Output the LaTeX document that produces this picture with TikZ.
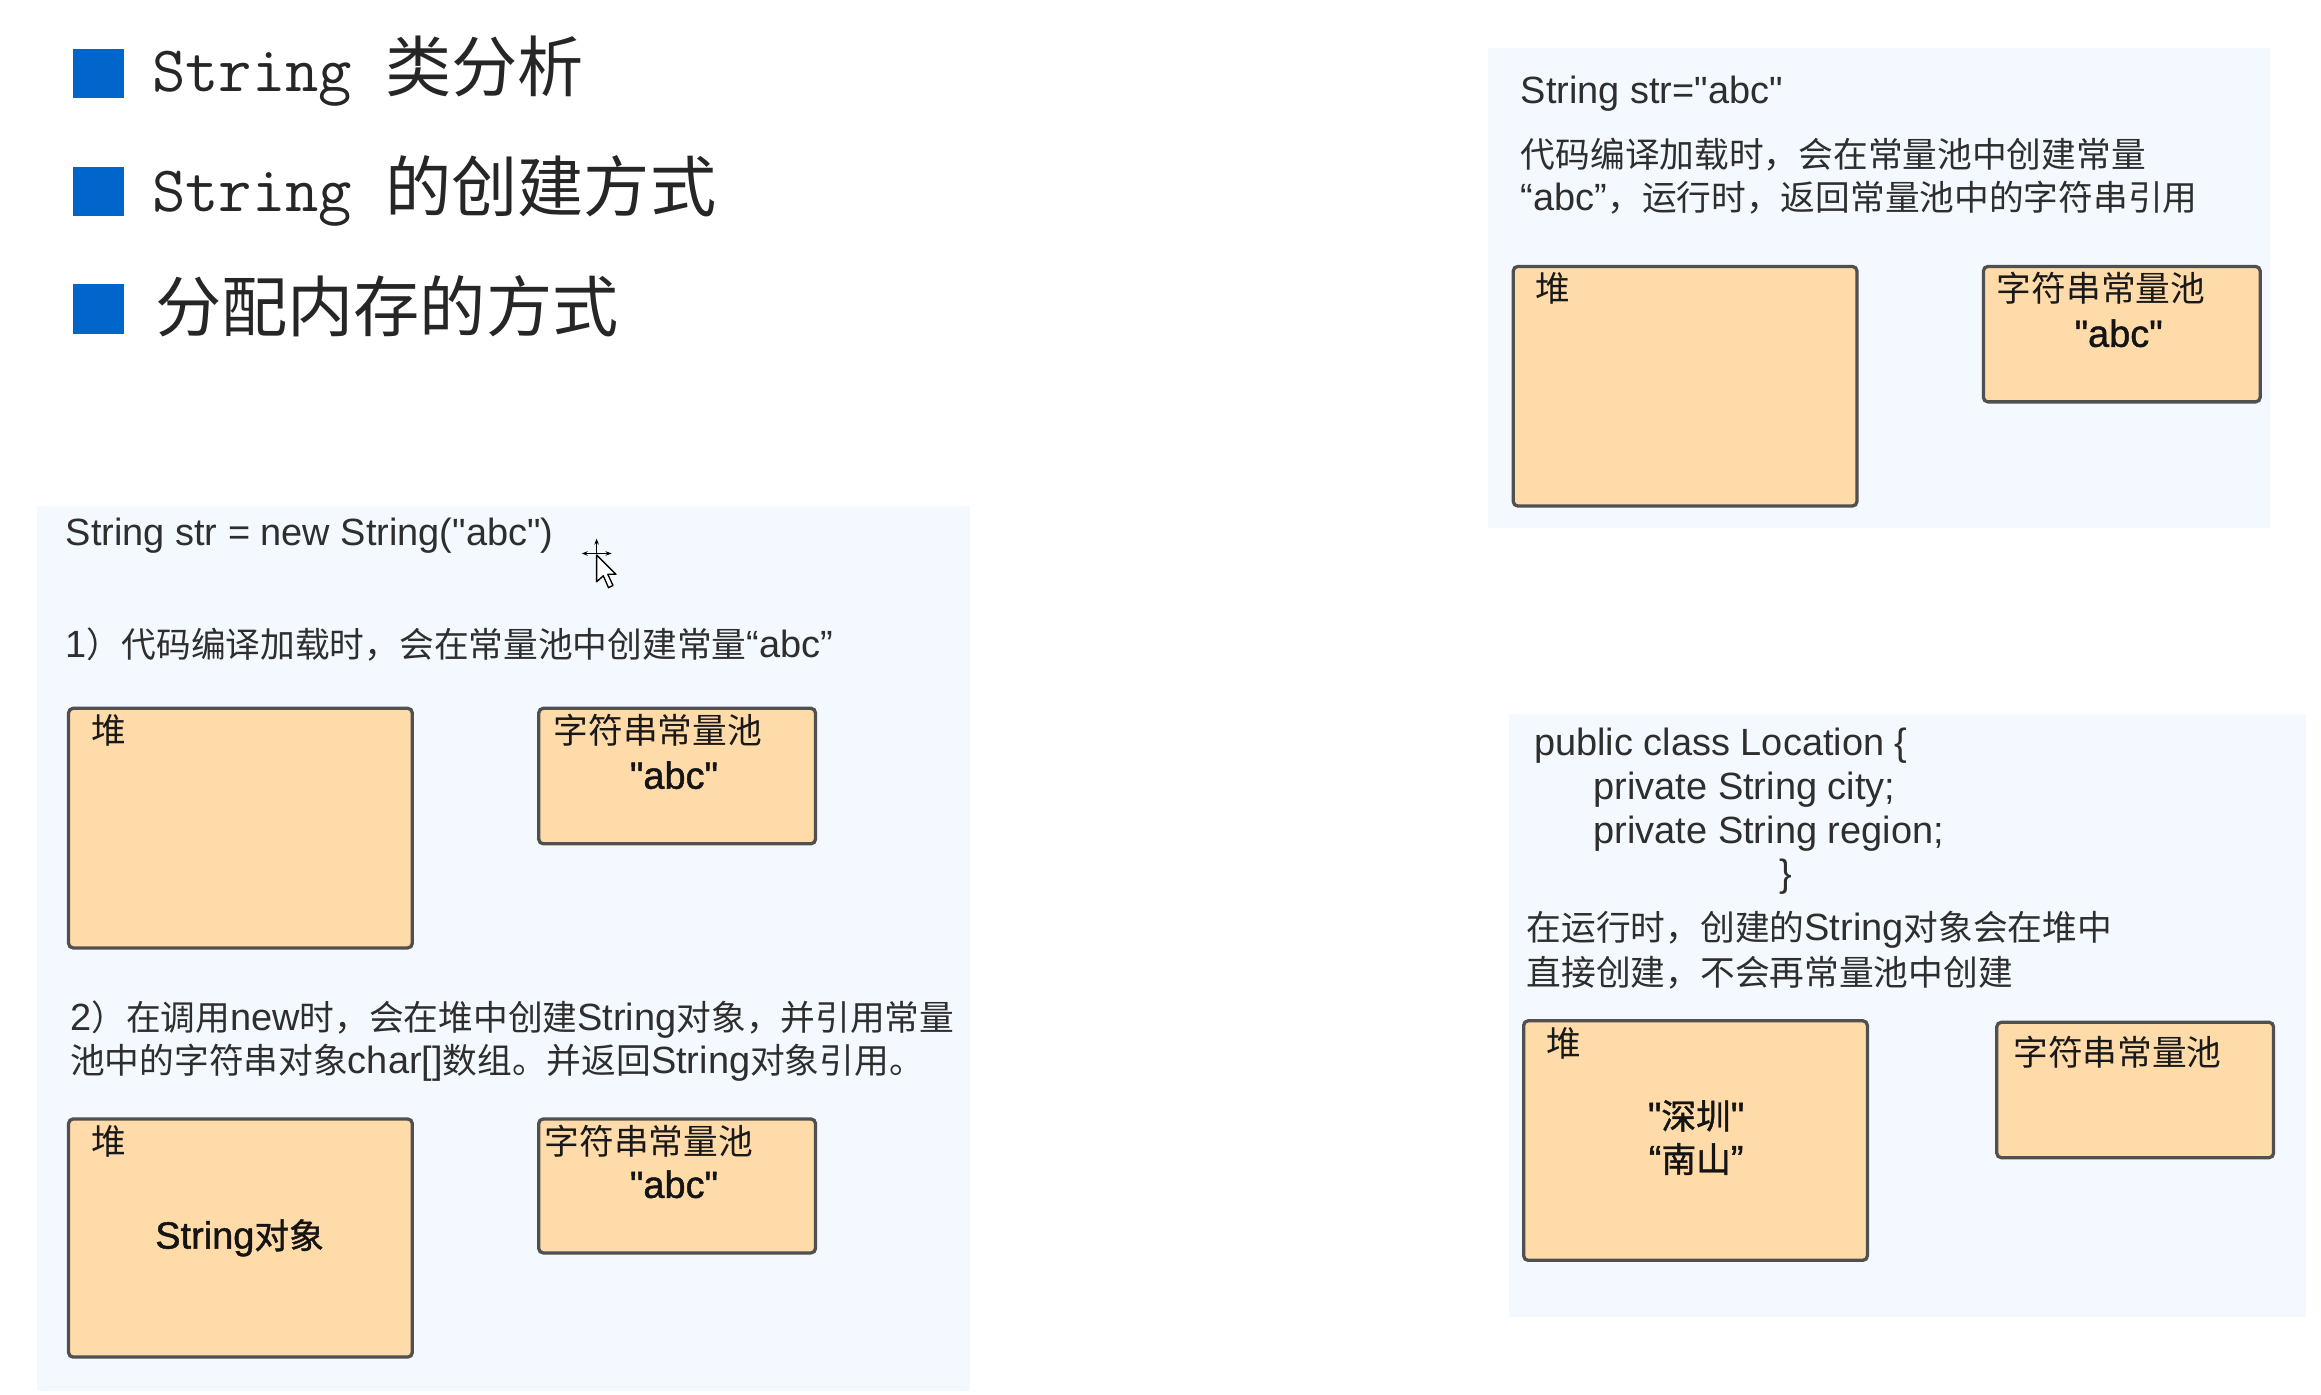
\documentclass[tikz,border=0pt]{standalone}
\usepackage{fontspec}
\setmainfont{Liberation Sans}
\newfontfamily\cjk{Noto Sans CJK SC}[Scale=0.915]
\newfontfamily\cjkb{Noto Sans CJK SC}[Scale=0.915,FakeBold=1.2]
\newfontfamily\latb{Liberation Sans}[FakeBold=1.2]
\newfontfamily\hcjk{Noto Sans CJK SC}
\usetikzlibrary{arrows.meta}
\definecolor{panelbg}{HTML}{F3F9FE}
\definecolor{boxfill}{HTML}{FFDBA9}
\definecolor{boxline}{HTML}{505050}
\definecolor{txt}{HTML}{2E2E2E}
\definecolor{bluesq}{HTML}{0066CC}
\newcommand\C[1]{{\cjk #1}}
\newcommand\CB[1]{{\cjkb #1}}
\newcommand\dq{\textquotedbl}
\begin{document}
\begin{tikzpicture}[x=1pt,y=-1pt,
  panel/.style={fill=panelbg,draw=none},
  membox/.style={draw=boxline,line width=2.2pt,fill=boxfill,rounded corners=3pt,inner sep=0pt,anchor=north west},
  body/.style={inner sep=0pt,anchor=west,text=txt,font=\fontsize{25.5}{30}\selectfont},
  lbl/.style={inner sep=0pt,anchor=west,text=black!90,font=\fontsize{25.5}{30}\selectfont},
  val/.style={inner sep=0pt,anchor=center,text=black!92,font=\fontsize{25.5}{30}\selectfont\latb},
  head/.style={inner sep=0pt,anchor=west,text=black!85,font=\fontsize{44.5}{50}\selectfont\hcjk},
  sq/.style={fill=bluesq,draw=none,inner sep=0pt,minimum width=34pt,minimum height=33pt,anchor=north west}]
\useasboundingbox (0,0) rectangle (1560,937);
\fill[white] (0,0) rectangle (1560,937);

% headings
\node[sq] (s1) at (49,33) {};
\node[sq] (s2) at (49,112) {};
\node[sq] (s3) at (49,191) {};
\node[head] (h1) at (102,48) {{\ttfamily\fontsize{43.5}{50}\selectfont String }类分析};
\node[head] (h2) at (102,128) {{\ttfamily\fontsize{43.5}{50}\selectfont String }的创建方式};
\node[head] (h3) at (104,206) {分配内存的方式};

% panels
\fill[panel] (25,340) rectangle (652,935);
\fill[panel] (1000,32) rectangle (1526,355);
\fill[panel] (1014,480) rectangle (1550,885);

% left panel
\node[body] (l0) at (44,360) {String str = new String(\dq abc\dq)};
\node[body] (l1) at (44,433) {1\C{）代码编译加载时，会在常量池中创建常量}“abc”};
\node[membox,minimum width=231pt,minimum height=161pt] (heapA) at (45,475) {};
\node[membox,minimum width=186pt,minimum height=91pt] (poolA) at (361,475) {};
\node[lbl] (heapAl) at (61,491) {\C{堆}};
\node[lbl] (poolAl) at (372,491) {\C{字符串常量池}};
\node[val] (poolAv) at (453,521) {\dq abc\dq};

\node[body] (l2a) at (47,685) {2\C{）在调用}new\C{时，会在堆中创建}String\C{对象，并引用常量}};
\node[body] (l2b) at (47,714) {\C{池中的字符串对象}char[]\C{数组。并返回}String\C{对象引用。}};
\node[membox,minimum width=231pt,minimum height=160pt] (heapB) at (45,751) {};
\node[membox,minimum width=186pt,minimum height=90pt] (poolB) at (361,751) {};
\node[lbl] (heapBl) at (61,767) {\C{堆}};
\node[val] (heapBv) at (161,832) {String\CB{对象}};
\node[lbl] (poolBl) at (366,767) {\C{字符串常量池}};
\node[val] (poolBv) at (453,796) {\dq abc\dq};

% cursor
\draw[black,line width=1pt,{Stealth[length=4pt]}-{Stealth[length=4pt]}] (391,372) -- (411,372);
\draw[black,line width=1pt,-{Stealth[length=4pt]}] (401,372) -- (401,362);
\draw[black,line width=0.9pt,fill=white,line join=round] (401,373) -- (401,391) -- (405.5,387) -- (409,395) -- (412,393.5) -- (408.5,386) -- (414,386) -- cycle;

% top right panel
\node[body] (r0) at (1022,63) {String str=\dq abc\dq};
\node[body] (r1) at (1022,104) {\C{代码编译加载时，会在常量池中创建常量}};
\node[body] (r2) at (1022,133) {“abc”\C{，运行时，返回常量池中的字符串引用}};
\node[membox,minimum width=231pt,minimum height=161pt] (heapC) at (1016,178) {};
\node[membox,minimum width=186pt,minimum height=91pt] (poolC) at (1332,178) {};
\node[lbl] (heapCl) at (1032,194) {\C{堆}};
\node[lbl] (poolCl) at (1342,194) {\C{字符串常量池}};
\node[val] (poolCv) at (1424,224) {\dq abc\dq};

% bottom right panel
\node[body] (c0) at (1031,501) {public class Location \{};
\node[body] (c1) at (1071,531) {private String city;};
\node[body] (c2) at (1071,560) {private String region;};
\node[body,anchor=center] (c3) at (1200,589) {\}};
\node[body] (c4) at (1026,625) {\C{在运行时，创建的}String\C{对象会在堆中}};
\node[body] (c5) at (1026,654) {\C{直接创建，不会再常量池中创建}};
\node[membox,minimum width=231pt,minimum height=161pt] (heapD) at (1023,685) {};
\node[membox,minimum width=186pt,minimum height=91pt] (poolD) at (1341,686) {};
\node[lbl] (heapDl) at (1039,701) {\C{堆}};
\node[val] (heapDv1) at (1140,750) {\dq\CB{深圳}\dq};
\node[val] (heapDv2) at (1140,779) {“\CB{南山}”};
\node[lbl] (poolDl) at (1353,707) {\C{字符串常量池}};
\end{tikzpicture}
\end{document}
